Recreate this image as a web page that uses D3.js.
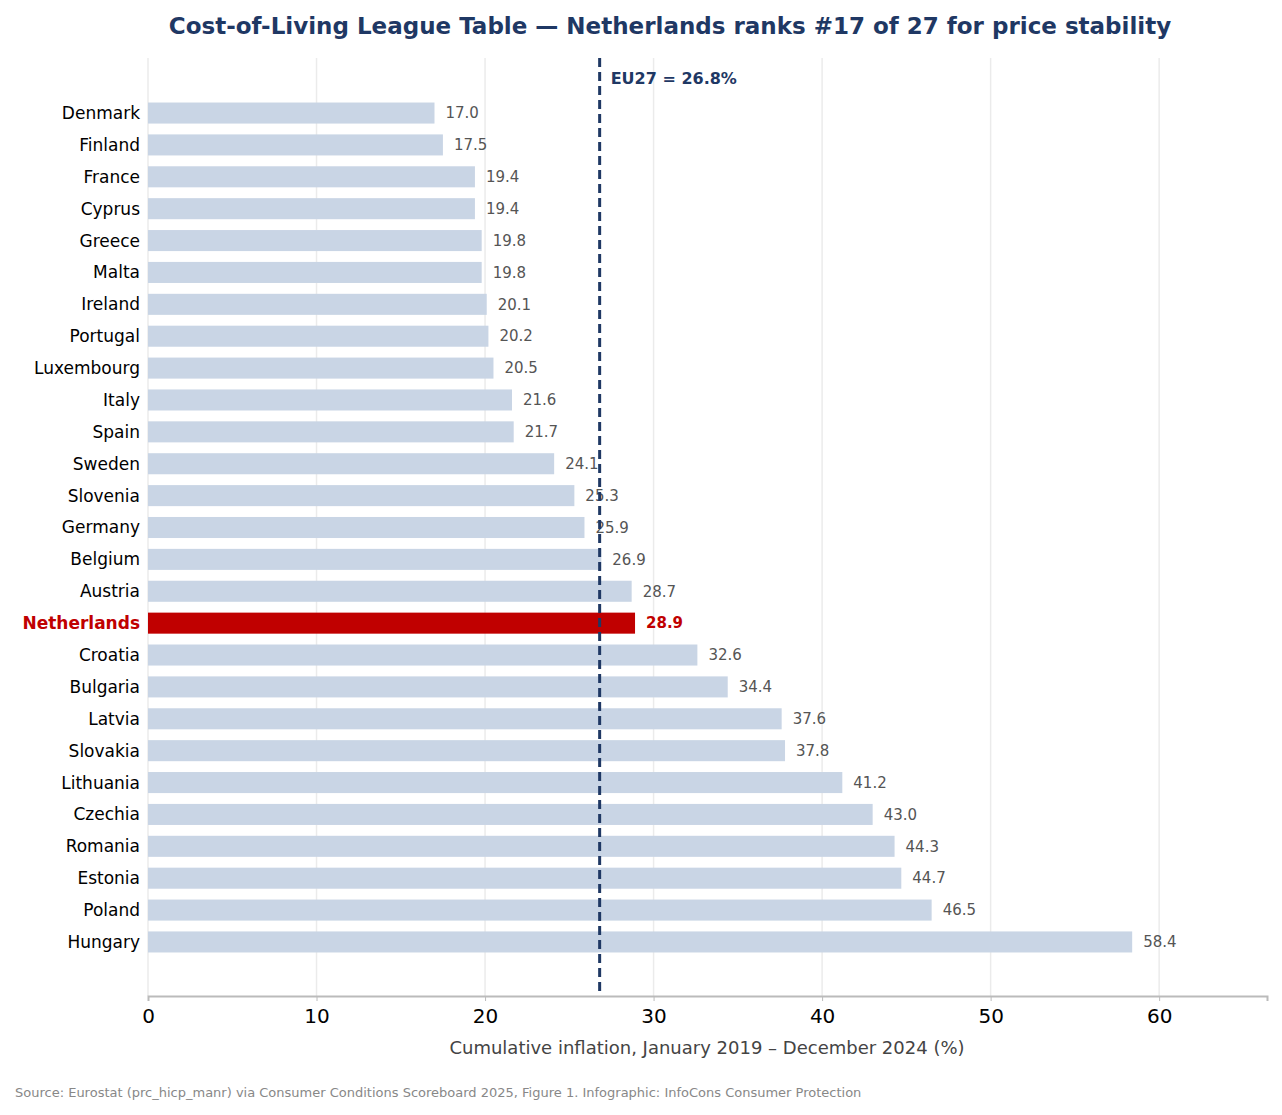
<!DOCTYPE html>
<html><head><meta charset="utf-8">
<script src="https://cdn.jsdelivr.net/npm/d3@7"></script>
<style>body{margin:0;background:#fff;font-family:"DejaVu Sans",sans-serif}</style>
</head><body><svg id="c" width="1282" height="1115"></svg>
<script>
const countries=["Denmark","Finland","France","Cyprus","Greece","Malta","Ireland","Portugal","Luxembourg","Italy","Spain","Sweden","Slovenia","Germany","Belgium","Austria","Netherlands","Croatia","Bulgaria","Latvia","Slovakia","Lithuania","Czechia","Romania","Estonia","Poland","Hungary"];
const values=[17.0,17.5,19.4,19.4,19.8,19.8,20.1,20.2,20.5,21.6,21.7,24.1,25.3,25.9,26.9,28.7,28.9,32.6,34.4,37.6,37.8,41.2,43.0,44.3,44.7,46.5,58.4];
const xTicks=[0,10,20,30,40,50,60];
const eu=26.8, highlight="Netherlands";
const svg=d3.select("#c");
const x=d3.scaleLinear().domain([0,66.4]).range([148,1267]);
const y=d3.scaleBand().domain(countries).range([97.1,957.9]).paddingInner(0.34).paddingOuter(0.17);
const plotTop=58,plotBot=996;
svg.append("g").selectAll("line").data(xTicks).join("line")
 .attr("x1",d=>x(d)).attr("x2",d=>x(d)).attr("y1",plotTop).attr("y2",plotBot)
 .attr("stroke","#ebebeb").attr("stroke-width",1.5);
svg.append("g").selectAll("rect").data(countries).join("rect")
 .attr("x",x(0)).attr("y",d=>y(d)).attr("height",y.bandwidth())
 .attr("width",(d,i)=>x(values[i])-x(0))
 .attr("fill",d=>d===highlight?"#c00000":"#c9d5e5");
svg.append("g").selectAll("text").data(countries).join("text")
 .attr("x",(d,i)=>x(values[i])+11).attr("y",d=>y(d)+y.bandwidth()/2).attr("dy","0.35em")
 .attr("font-size",15).attr("font-weight",d=>d===highlight?"bold":"normal")
 .attr("fill",d=>d===highlight?"#c00000":"#555")
 .text((d,i)=>values[i].toFixed(1));
svg.append("g").selectAll("text").data(countries).join("text")
 .attr("x",140).attr("y",d=>y(d)+y.bandwidth()/2).attr("dy","0.35em").attr("text-anchor","end")
 .attr("font-size",17).attr("font-weight",d=>d===highlight?"bold":"normal")
 .attr("fill",d=>d===highlight?"#c00000":"#000").text(d=>d);
svg.append("line").attr("x1",x(eu)).attr("x2",x(eu)).attr("y1",plotTop).attr("y2",plotBot)
 .attr("stroke","#1f3864").attr("stroke-width",3).attr("stroke-dasharray","9,5");
svg.append("text").attr("x",x(eu)+11).attr("y",84).attr("font-size",16).attr("font-weight","bold")
 .attr("fill","#1f3864").text("EU27 = 26.8%");
const ax=svg.append("g").attr("transform",`translate(0,${plotBot})`)
 .call(d3.axisBottom(x).tickValues(xTicks).tickSize(5).tickPadding(8));
ax.select(".domain").attr("stroke","#bbb").attr("stroke-width",2);
ax.selectAll(".tick line").attr("stroke","#bbb");
ax.selectAll("text").attr("font-size",20).attr("fill","#000").attr("font-family","DejaVu Sans");
svg.append("text").attr("x",707).attr("y",1054).attr("text-anchor","middle").attr("font-size",18)
 .attr("fill","#444").text("Cumulative inflation, January 2019 – December 2024 (%)");
svg.append("text").attr("x",670).attr("y",34).attr("text-anchor","middle").attr("font-size",23)
 .attr("font-weight","bold").attr("fill","#1f3864")
 .text("Cost-of-Living League Table — Netherlands ranks #17 of 27 for price stability");
svg.append("text").attr("x",15).attr("y",1097).attr("font-size",13).attr("fill","#888")
 .text("Source: Eurostat (prc_hicp_manr) via Consumer Conditions Scoreboard 2025, Figure 1.  Infographic: InfoCons Consumer Protection");
</script></body></html>
